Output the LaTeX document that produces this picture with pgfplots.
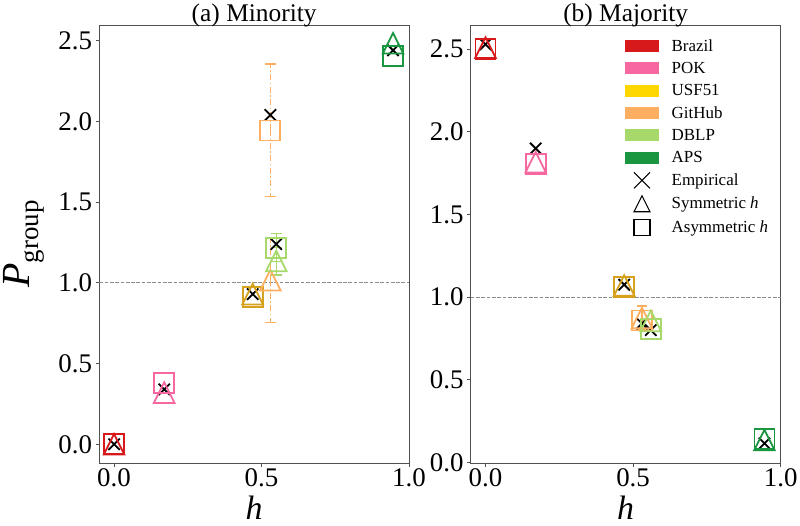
\documentclass[border=0pt]{standalone}
\usepackage{fontspec}
\setmainfont{Liberation Serif}
\usepackage{pgfplots}
\pgfplotsset{compat=1.18}

\pgfdeclareplotmark{mtri}{%
  \pgfpathmoveto{\pgfqpoint{0pt}{\pgfplotmarksize}}%
  \pgfpathlineto{\pgfqpoint{-\pgfplotmarksize}{-\pgfplotmarksize}}%
  \pgfpathlineto{\pgfqpoint{\pgfplotmarksize}{-\pgfplotmarksize}}%
  \pgfpathclose\pgfusepathqstroke}

\definecolor{cBrazil}{RGB}{215,25,28}
\definecolor{cPOK}{RGB}{247,104,161}
\definecolor{cUSF}{RGB}{255,215,0}
\definecolor{cUSFm}{RGB}{214,162,30}
\definecolor{cGit}{RGB}{253,174,97}
\definecolor{cDBLP}{RGB}{166,217,106}
\definecolor{cAPS}{RGB}{26,150,65}
\definecolor{frame}{RGB}{80,80,80}

\pgfplotsset{
  myax/.style={
    scale only axis, width=309.7bp, height=438bp, anchor=south west,
    xmin=-0.05, xmax=1.0, clip=false,
    xtick={0,0.5,1}, ytick={0,0.5,1,1.5,2,2.5},
    /pgf/number format/assume math mode=true,
    xticklabel={\pgfmathprintnumber[fixed,fixed zerofill,precision=1]{\tick}},
    yticklabel={\pgfmathprintnumber[fixed,fixed zerofill,precision=1]{\tick}},
    tick label style={font=\fontsize{27}{27}\selectfont},
    xticklabel style={inner sep=0bp, yshift=-1.5bp},
    yticklabel style={inner sep=0bp, xshift=-3.5bp},
    tick align=outside, major tick length=3.5bp,
    xtick pos=bottom, ytick pos=left,
    tick style={line width=0.8bp, color=frame},
    axis line style={line width=0.8bp, color=frame},
    xlabel={\textit{h}},
    xlabel style={font=\fontsize{34}{34}\selectfont, at={(axis description cs:0.5,-0.1301)}, anchor=base, inner sep=0bp},
    title style={font=\fontsize{25.5}{25.5}\selectfont, at={(axis description cs:0.5,1)}, anchor=base, yshift=-2bp, inner sep=0bp},
  },
  emp/.style={only marks, mark=x, mark size=8bp, black, line width=1.8bp, forget plot},
  sym/.style={only marks, mark=mtri, mark size=10.3bp, line width=1.8bp, color=#1, forget plot},
  asym/.style={only marks, mark=square, mark size=10bp, line width=1.8bp, color=#1, forget plot},
  ebar/.style={error bars/.cd, y dir=both, y explicit,
    error bar style={line width=1.5bp},
    error mark options={rotate=90, mark size=5.3bp, line width=1.5bp, solid}},
  ebardd/.style={error bars/.cd, y dir=both, y explicit,
    error bar style={line width=1.5bp, dash pattern=on 6bp off 2.5bp on 1.5bp off 2.5bp},
    error mark options={rotate=90, mark size=5.3bp, line width=1.5bp, solid}},
  refline/.style={color=black!45, line width=0.8bp, dash pattern=on 3.7bp off 1.6bp, forget plot},
  patch/.style={legend image code/.code={\path[draw=none,fill=none] (0bp,-8bp) rectangle (34bp,8bp); \fill[draw=none,#1] (0bp,-6bp) rectangle (34bp,6bp);}},
}

\begin{document}
\begin{tikzpicture}
\useasboundingbox (0,0) rectangle (800bp,526bp);

% ---------------- (a) Minority ----------------
\begin{axis}[myax, at={(99.3bp,63bp)}, title={(a) Minority},
  ymin=-0.116, ymax=2.597,
  ylabel={\fontsize{40}{40}\selectfont\textit{P}\raisebox{-0.22em}{\fontsize{27}{27}\selectfont group}},
  ylabel style={at={(axis description cs:-0.224,0.5)}, anchor=base, rotate=0, inner sep=0bp},
]
\addplot[refline] coordinates {(-0.05,1) (1.0,1)};
% Empirical
\addplot[emp] coordinates {(0,0) (0.170,0.340) (0.470,0.930) (0.530,2.040) (0.550,1.240) (0.946,2.440)};
% Asymmetric h
\addplot[asym=cBrazil] coordinates {(0,0)};
\addplot[asym=cPOK] coordinates {(0.170,0.378)};
\addplot[asym=cUSFm] coordinates {(0.470,0.913)};
\addplot[asym=cGit, ebardd] coordinates {(0.530,1.944) +- (0,0.410)};
\addplot[asym=cDBLP, ebar] coordinates {(0.550,1.218) +- (0,0.086)};
\addplot[asym=cAPS] coordinates {(0.946,2.403)};
% Symmetric h
\addplot[sym=cBrazil] coordinates {(0,0)};
\addplot[sym=cPOK] coordinates {(0.170,0.320)};
\addplot[sym=cUSFm] coordinates {(0.470,0.930)};
\addplot[sym=cGit, ebardd] coordinates {(0.530,1.016) +- (0,0.262)};
\addplot[sym=cDBLP, ebar] coordinates {(0.550,1.135) +- (0,0.085)};
\addplot[sym=cAPS] coordinates {(0.946,2.484)};
\end{axis}

% ---------------- (b) Majority ----------------
\begin{axis}[myax, at={(470.7bp,63bp)}, width=310bp, title={(b) Majority},
  ymin=-0.004, ymax=2.647,
  legend style={draw=none, fill=none, at={(axis description cs:0.4977,0.9703)}, anchor=north west,
    inner sep=0pt, outer sep=0pt, row sep=6.3bp, column sep=12.7bp,
    font=\fontsize{17}{17}\selectfont, nodes={inner sep=0pt}},
  legend cell align=left,
]
\addplot[refline] coordinates {(-0.05,1) (1.0,1)};
% Empirical
\addplot[emp] coordinates {(0,2.530) (0.170,1.900) (0.470,1.075) (0.530,0.840) (0.560,0.800) (0.945,0.115)};
% Asymmetric h
\addplot[asym=cBrazil] coordinates {(0,2.500)};
\addplot[asym=cPOK] coordinates {(0.170,1.807)};
\addplot[asym=cUSFm] coordinates {(0.470,1.063)};
\addplot[asym=cGit] coordinates {(0.530,0.858)};
\addplot[asym=cDBLP] coordinates {(0.560,0.805)};
\addplot[asym=cAPS] coordinates {(0.945,0.140)};
% Symmetric h
\addplot[sym=cBrazil] coordinates {(0,2.510)};
\addplot[sym=cPOK] coordinates {(0.170,1.816)};
\addplot[sym=cUSFm] coordinates {(0.470,1.070)};
\addplot[sym=cGit, ebar] coordinates {(0.530,0.873) +- (0,0.073)};
\addplot[sym=cDBLP] coordinates {(0.560,0.856)};
\addplot[sym=cAPS] coordinates {(0.945,0.135)};

% legend
\addlegendimage{patch=cBrazil}
\addlegendentry{Brazil}
\addlegendimage{patch=cPOK}
\addlegendentry{POK}
\addlegendimage{patch=cUSF}
\addlegendentry{USF51}
\addlegendimage{patch=cGit}
\addlegendentry{GitHub}
\addlegendimage{patch=cDBLP}
\addlegendentry{DBLP}
\addlegendimage{patch=cAPS}
\addlegendentry{APS}
\addlegendimage{legend image code/.code={\path[draw=none,fill=none] (0bp,-8bp) rectangle (34bp,8bp); \draw[black, fill=none, line width=1.1bp] (9bp,-8bp) -- (25bp,8bp) (9bp,8bp) -- (25bp,-8bp);}}
\addlegendentry{Empirical}
\addlegendimage{legend image code/.code={\path[draw=none,fill=none] (0bp,-8bp) rectangle (34bp,8bp); \draw[black, fill=none, line width=1.1bp] (9bp,-8bp) -- (17bp,8bp) -- (25bp,-8bp) -- cycle;}}
\addlegendentry{Symmetric \textit{h}}
\addlegendimage{legend image code/.code={\path[draw=none,fill=none] (0bp,-8bp) rectangle (34bp,8bp); \draw[black, fill=none, line width=1.1bp] (9bp,-8bp) rectangle (25bp,8bp);}}
\addlegendentry{Asymmetric \textit{h}}
\end{axis}
\end{tikzpicture}
\end{document}
